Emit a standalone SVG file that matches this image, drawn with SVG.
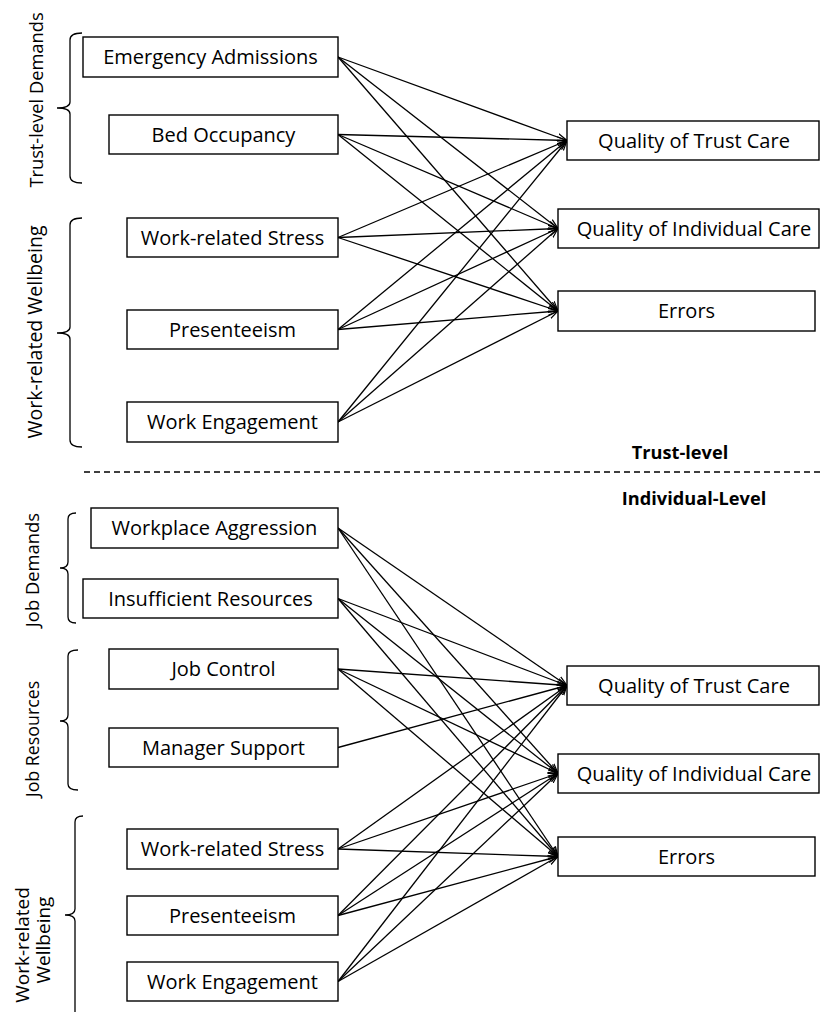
<svg xmlns="http://www.w3.org/2000/svg" width="821" height="1012" viewBox="0 0 821 1012">
  <style>
    .box { fill: #fff; stroke: #000; stroke-width: 1.4; }
    .lbl { font-family: "Open Sans", "Liberation Sans", sans-serif; font-size: 20px; fill: #000; text-anchor: middle; }
    .grp { font-family: "Open Sans", "Liberation Sans", sans-serif; font-size: 18.3px; fill: #000; text-anchor: middle; }
    .lvl { font-family: "Open Sans", "Liberation Sans", sans-serif; font-size: 18.2px; font-weight: bold; fill: #000; text-anchor: middle; }
    .brace { fill: none; stroke: #000; stroke-width: 1.3; }
    .edge { stroke: #000; stroke-width: 1.3; fill: none; marker-end: url(#arr); }
  </style>
  <defs>
    <marker id="arr" markerWidth="12" markerHeight="10" refX="10" refY="5" orient="auto" markerUnits="userSpaceOnUse">
      <path d="M0,1.5 L10,5 L0,8.5" fill="none" stroke="#000" stroke-width="1.2"/>
    </marker>
  </defs>
  <rect width="821" height="1012" fill="#fff"/>

  <!-- group braces -->
  <g id="braces">
    <path class="brace" d="M82,33 Q70,33 70,40 L70,102 Q70,108 57,108 Q70,108 70,114 L70,176 Q70,183 82,183"/>
    <path class="brace" d="M82,218 Q70,218 70,225 L70,327 Q70,333 57,333 Q70,333 70,339 L70,440 Q70,447 82,447"/>
    <path class="brace" d="M76,513 Q68,513 68,519 L68,562 Q68,568 60,568 Q68,568 68,574 L68,617 Q68,623 76,623"/>
    <path class="brace" d="M78,650 Q68,650 68,656 L68,715 Q68,721 60,721 Q68,721 68,727 L68,784 Q68,790 78,790"/>
    <path class="brace" d="M83,816 Q75,816 75,822 L75,909 Q75,915 65,915 Q75,915 75,921 L75,1014"/>
  </g>

  <!-- group labels -->
  <g id="group-labels">
    <text class="grp" transform="translate(43,100) rotate(-90)">Trust-level Demands</text>
    <text class="grp" style="font-size:19.5px" transform="translate(42,332) rotate(-90)">Work-related Wellbeing</text>
    <text class="grp" style="font-size:18.4px" transform="translate(39,570) rotate(-90)">Job Demands</text>
    <text class="grp" style="font-size:17.8px" transform="translate(39,739) rotate(-90)">Job Resources</text>
    <text class="grp" style="font-size:19px" transform="translate(29,945) rotate(-90)">Work-related</text>
    <text class="grp" style="font-size:19px" transform="translate(50,940) rotate(-90)">Wellbeing</text>
  </g>

  <!-- level divider -->
  <g id="divider">
    <line x1="84" y1="472" x2="821" y2="472" stroke="#000" stroke-width="1.3" stroke-dasharray="6,4"/>
    <text class="lvl" x="680" y="459">Trust-level</text>
    <text class="lvl" x="694" y="505">Individual-Level</text>
  </g>

  <!-- connectors -->
  <g id="connectors">
    <!-- trust level -->
    <line class="edge" x1="338" y1="57" x2="567" y2="140.5"/>
    <line class="edge" x1="338" y1="57" x2="558" y2="228.5"/>
    <line class="edge" x1="338" y1="57" x2="558" y2="311"/>
    <line class="edge" x1="338" y1="134.5" x2="567" y2="140.5"/>
    <line class="edge" x1="338" y1="134.5" x2="558" y2="228.5"/>
    <line class="edge" x1="338" y1="134.5" x2="558" y2="311"/>
    <line class="edge" x1="338" y1="237.5" x2="567" y2="140.5"/>
    <line class="edge" x1="338" y1="237.5" x2="558" y2="228.5"/>
    <line class="edge" x1="338" y1="237.5" x2="558" y2="311"/>
    <line class="edge" x1="338" y1="329.5" x2="567" y2="140.5"/>
    <line class="edge" x1="338" y1="329.5" x2="558" y2="228.5"/>
    <line class="edge" x1="338" y1="329.5" x2="558" y2="311"/>
    <line class="edge" x1="338" y1="422" x2="567" y2="140.5"/>
    <line class="edge" x1="338" y1="422" x2="558" y2="228.5"/>
    <line class="edge" x1="338" y1="422" x2="558" y2="311"/>
    <!-- individual level -->
    <line class="edge" x1="338" y1="528" x2="567" y2="685.5"/>
    <line class="edge" x1="338" y1="528" x2="558" y2="773.5"/>
    <line class="edge" x1="338" y1="528" x2="558" y2="856.5"/>
    <line class="edge" x1="338" y1="598.5" x2="567" y2="685.5"/>
    <line class="edge" x1="338" y1="598.5" x2="558" y2="773.5"/>
    <line class="edge" x1="338" y1="598.5" x2="558" y2="856.5"/>
    <line class="edge" x1="338" y1="669" x2="567" y2="685.5"/>
    <line class="edge" x1="338" y1="669" x2="558" y2="773.5"/>
    <line class="edge" x1="338" y1="669" x2="558" y2="856.5"/>
    <line class="edge" x1="338" y1="747.5" x2="567" y2="685.5"/>
    <line class="edge" x1="338" y1="849" x2="567" y2="685.5"/>
    <line class="edge" x1="338" y1="849" x2="558" y2="773.5"/>
    <line class="edge" x1="338" y1="849" x2="558" y2="856.5"/>
    <line class="edge" x1="338" y1="915.5" x2="567" y2="685.5"/>
    <line class="edge" x1="338" y1="915.5" x2="558" y2="773.5"/>
    <line class="edge" x1="338" y1="915.5" x2="558" y2="856.5"/>
    <line class="edge" x1="338" y1="981.5" x2="567" y2="685.5"/>
    <line class="edge" x1="338" y1="981.5" x2="558" y2="773.5"/>
    <line class="edge" x1="338" y1="981.5" x2="558" y2="856.5"/>
  </g>

  <!-- trust-level nodes -->
  <g id="t-emergency"><rect class="box" x="83" y="37" width="255" height="40"/><text class="lbl" x="210.5" y="64">Emergency Admissions</text></g>
  <g id="t-bed"><rect class="box" x="109" y="115" width="229" height="39"/><text class="lbl" x="223.5" y="141.5">Bed Occupancy</text></g>
  <g id="t-stress"><rect class="box" x="127" y="218" width="211" height="39"/><text class="lbl" x="232.5" y="244.5">Work-related Stress</text></g>
  <g id="t-presenteeism"><rect class="box" x="127" y="310" width="211" height="39"/><text class="lbl" x="232.5" y="336.5">Presenteeism</text></g>
  <g id="t-engagement"><rect class="box" x="127" y="402" width="211" height="40"/><text class="lbl" x="232.5" y="429">Work Engagement</text></g>
  <g id="t-trust-care"><rect class="box" x="567" y="121" width="252" height="39"/><text class="lbl" x="694" y="147.5">Quality of Trust Care</text></g>
  <g id="t-indiv-care"><rect class="box" x="558" y="209" width="261" height="39"/><text class="lbl" x="694" y="235.5">Quality of Individual Care</text></g>
  <g id="t-errors"><rect class="box" x="558" y="291" width="257" height="40"/><text class="lbl" x="686.5" y="318">Errors</text></g>

  <!-- individual-level nodes -->
  <g id="i-aggression"><rect class="box" x="91" y="508" width="247" height="40"/><text class="lbl" x="214.5" y="535">Workplace Aggression</text></g>
  <g id="i-resources"><rect class="box" x="83" y="579" width="255" height="39"/><text class="lbl" x="210.5" y="605.5">Insufficient Resources</text></g>
  <g id="i-control"><rect class="box" x="109" y="649" width="229" height="40"/><text class="lbl" x="223.5" y="676">Job Control</text></g>
  <g id="i-support"><rect class="box" x="109" y="728" width="229" height="39"/><text class="lbl" x="223.5" y="754.5">Manager Support</text></g>
  <g id="i-stress"><rect class="box" x="127" y="829" width="211" height="40"/><text class="lbl" x="232.5" y="856">Work-related Stress</text></g>
  <g id="i-presenteeism"><rect class="box" x="127" y="896" width="211" height="39"/><text class="lbl" x="232.5" y="922.5">Presenteeism</text></g>
  <g id="i-engagement"><rect class="box" x="127" y="962" width="211" height="39"/><text class="lbl" x="232.5" y="988.5">Work Engagement</text></g>
  <g id="i-trust-care"><rect class="box" x="567" y="666" width="252" height="39"/><text class="lbl" x="694" y="692.5">Quality of Trust Care</text></g>
  <g id="i-indiv-care"><rect class="box" x="558" y="754" width="261" height="39"/><text class="lbl" x="694" y="780.5">Quality of Individual Care</text></g>
  <g id="i-errors"><rect class="box" x="558" y="837" width="257" height="39"/><text class="lbl" x="686.5" y="863.5">Errors</text></g>
</svg>
